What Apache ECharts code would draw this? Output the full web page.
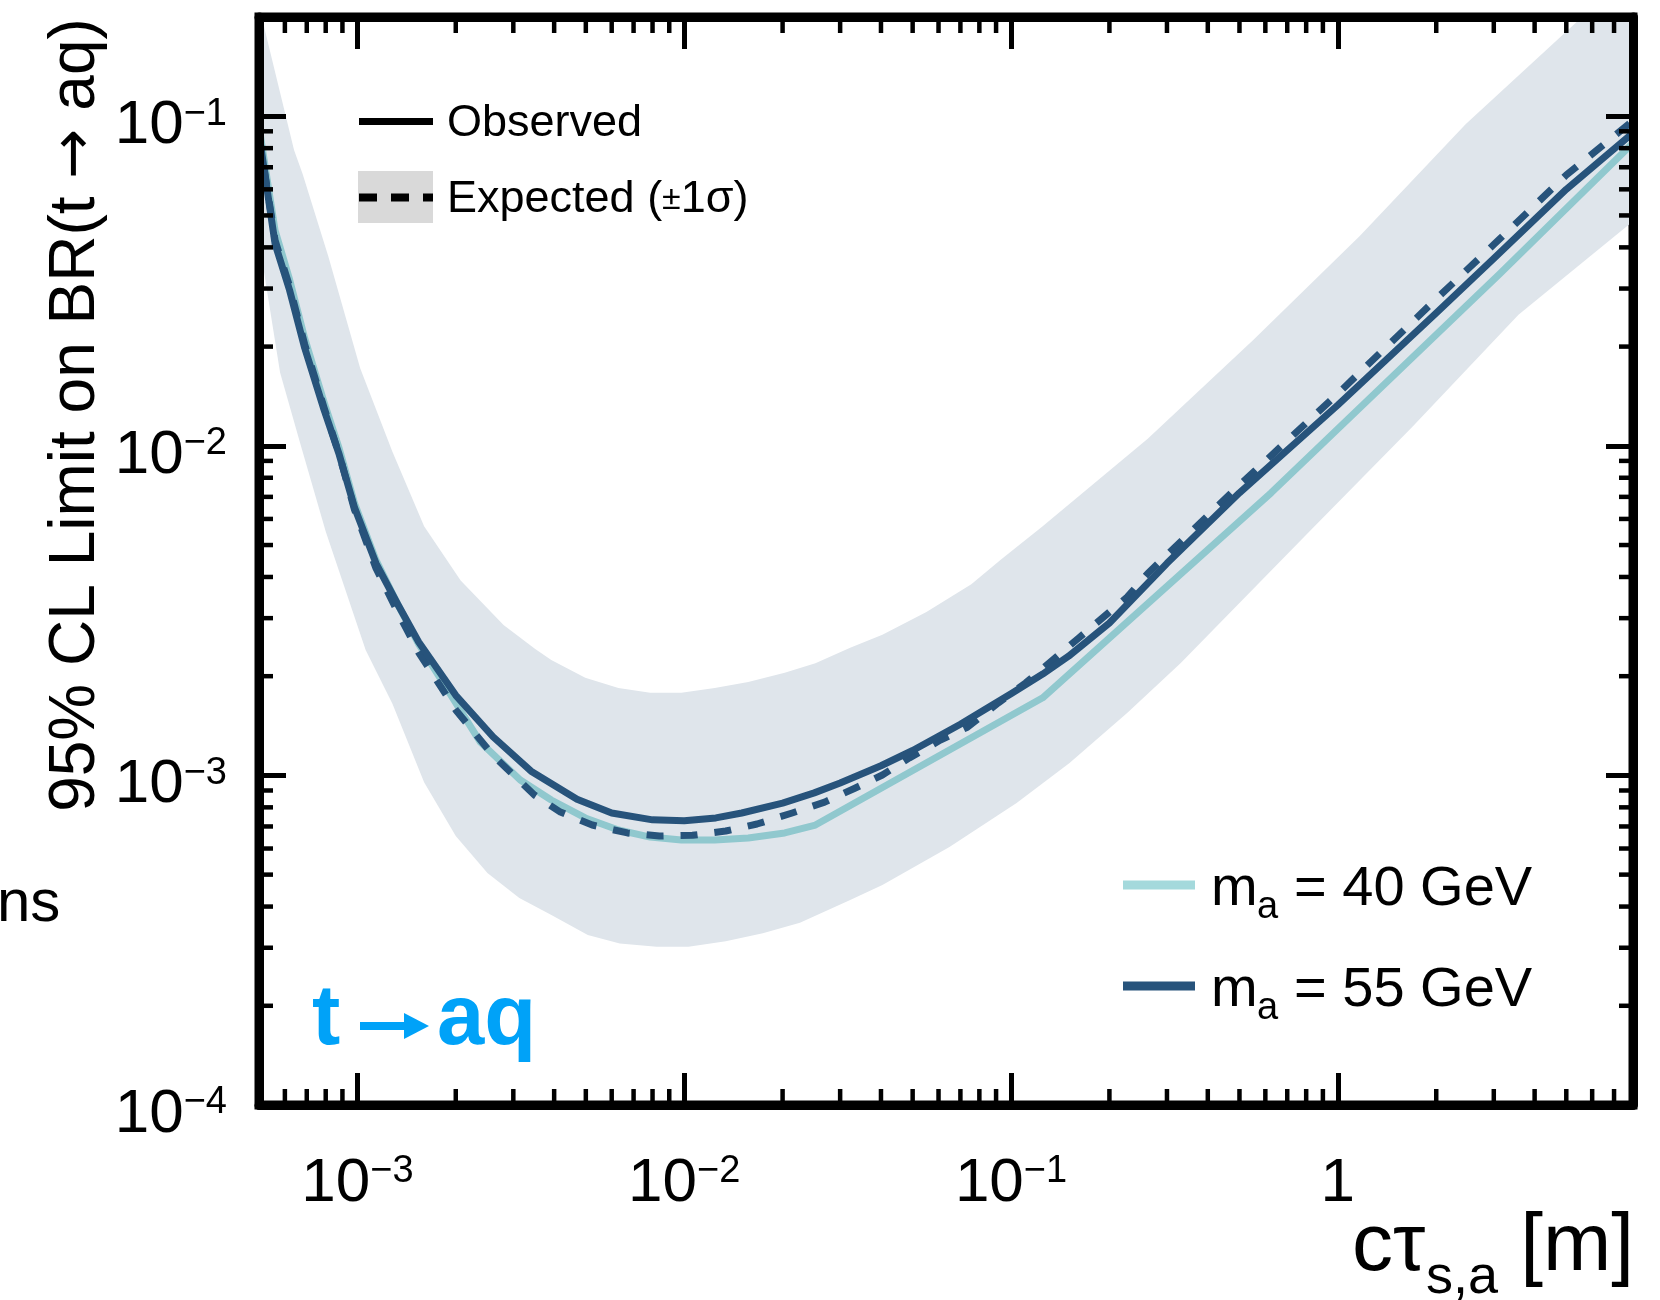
<!DOCTYPE html>
<html>
<head>
<meta charset="utf-8">
<script src="https://cdn.jsdelivr.net/npm/echarts@6/dist/echarts.min.js"></script>
<style>
  html, body { margin: 0; padding: 0; background: #ffffff; }
  #chart { width: 1660px; height: 1300px; }
</style>
</head>
<body>
<div id="chart"></div>
<script>
// ---- axis ranges -------------------------------------------------------
const X_MIN = 5e-4, X_MAX = 8;
const Y_MIN = 1e-4, Y_MAX = 0.2;

// ---- tick labels (base, exponent) ---------------------------------------
const xTickValues = [1e-3, 1e-2, 1e-1, 1];
const xTickLabels = [['10', '\u22123'], ['10', '\u22122'], ['10', '\u22121'], ['1', '']];
const yTickValues = [1e-4, 1e-3, 1e-2, 1e-1];
const yTickLabels = [['10', '\u22124'], ['10', '\u22123'], ['10', '\u22122'], ['10', '\u22121']];

// minor tick positions
const xMinorTicks = [6e-4, 7e-4, 8e-4, 9e-4,
  2e-3, 3e-3, 4e-3, 5e-3, 6e-3, 7e-3, 8e-3, 9e-3,
  2e-2, 3e-2, 4e-2, 5e-2, 6e-2, 7e-2, 8e-2, 9e-2,
  0.2, 0.3, 0.4, 0.5, 0.6, 0.7, 0.8, 0.9,
  2, 3, 4, 5, 6, 7];
const yMinorTicks = [2e-4, 3e-4, 4e-4, 5e-4, 6e-4, 7e-4, 8e-4, 9e-4,
  2e-3, 3e-3, 4e-3, 5e-3, 6e-3, 7e-3, 8e-3, 9e-3,
  2e-2, 3e-2, 4e-2, 5e-2, 6e-2, 7e-2, 8e-2, 9e-2];

// ---- m_a = 55 GeV, observed limit ---------------------------------------
const obs55X = [5.0e-4, 5.6e-4, 6.2e-4, 6.9e-4, 7.9e-4, 8.8e-4, 9.8e-4, 1.14e-3, 1.33e-3, 1.54e-3,
  2.0e-3, 2.6e-3, 3.4e-3, 4.7e-3, 6.0e-3, 8.0e-3, 1.0e-2, 1.25e-2, 1.5e-2, 2.0e-2,
  2.5e-2, 3.0e-2, 4.0e-2, 5.0e-2, 7.0e-2, 0.1, 0.125, 0.15, 0.2, 0.3,
  0.5, 1, 2, 3, 5, 8];
const obs55Y = [0.088, 0.041, 0.0297, 0.0198, 0.0129, 0.0094, 0.0065, 0.0044, 0.0033, 0.00254,
  0.00175, 0.00131, 0.00103, 0.000847, 0.000769, 0.000733, 0.000728, 0.000743, 0.000769, 0.000824,
  0.000885, 0.000948, 0.00107, 0.00119, 0.00143, 0.00177, 0.00203, 0.0023, 0.0029, 0.0044,
  0.0072, 0.0133, 0.0253, 0.037, 0.060, 0.089];

// ---- m_a = 55 GeV, expected limit ---------------------------------------
const exp55X = [5.0e-4, 5.6e-4, 6.2e-4, 6.9e-4, 7.9e-4, 8.8e-4, 9.8e-4, 1.14e-3, 1.33e-3, 1.54e-3,
  2.0e-3, 2.6e-3, 3.48e-3, 4.18e-3, 5.23e-3, 6.7e-3, 8.4e-3, 1.06e-2, 1.34e-2, 1.67e-2,
  2.14e-2, 2.69e-2, 3.34e-2, 4.04e-2, 4.89e-2, 6.08e-2, 7.35e-2, 9.15e-2, 0.111, 0.161,
  0.227, 0.262, 0.5, 1, 2, 3, 5, 8];
const exp55Y = [0.088, 0.042, 0.0305, 0.0203, 0.0131, 0.0094, 0.0064, 0.00425, 0.00312, 0.00236,
  0.00158, 0.00115, 0.000872, 0.000774, 0.000707, 0.000669, 0.000655, 0.000658, 0.000678, 0.000712,
  0.000769, 0.00083, 0.000916, 0.001003, 0.00113, 0.00128, 0.0014, 0.00166, 0.00191, 0.00261,
  0.00348, 0.0041, 0.0076, 0.0144, 0.0279, 0.0408, 0.0663, 0.097];

// ---- m_a = 40 GeV, observed limit ---------------------------------------
const obs40X = [5.0e-4, 5.6e-4, 6.2e-4, 6.9e-4, 7.9e-4, 8.8e-4, 9.8e-4, 1.14e-3, 1.33e-3, 1.54e-3,
  2.0e-3, 2.38e-3, 3.15e-3, 3.92e-3, 4.98e-3, 6.29e-3, 7.87e-3, 9.8e-3, 1.24e-2, 1.57e-2,
  2.03e-2, 2.52e-2, 0.125, 0.625, 3.125, 8];
const obs40Y = [0.093, 0.045, 0.032, 0.0212, 0.0136, 0.0098, 0.0067, 0.0045, 0.0033, 0.0025,
  0.00166, 0.00126, 0.000968, 0.000842, 0.000743, 0.000683, 0.00065, 0.000637, 0.000637, 0.000646,
  0.000669, 0.000707, 0.00172, 0.0072, 0.0332, 0.083];

// ---- expected +-1 sigma band: upper edge ---------------------------------
const bandHiX = [5.0e-4, 5.16e-4, 6.4e-4, 6.8e-4, 8.15e-4, 1.02e-3, 1.28e-3, 1.6e-3, 2.07e-3, 2.8e-3,
  3.5e-3, 3.92e-3, 4.98e-3, 6.29e-3, 7.87e-3, 9.8e-3, 1.24e-2, 1.57e-2, 2.03e-2, 2.52e-2,
  3.22e-2, 4.04e-2, 5.51e-2, 7.56e-2, 9.28e-2, 0.125, 0.262, 0.553, 1.167, 2.46,
  5.59, 8];
const bandHiY = [0.22, 0.19, 0.079, 0.0668, 0.0375, 0.0172, 0.0096, 0.0057, 0.0039, 0.00286,
  0.00242, 0.00224, 0.00198, 0.00184, 0.00178, 0.00178, 0.00184, 0.00192, 0.00205, 0.00219,
  0.00244, 0.00267, 0.00313, 0.0038, 0.0045, 0.0057, 0.0105, 0.021, 0.0433, 0.0945,
  0.2, 0.29];

// ---- expected +-1 sigma band: lower edge ---------------------------------
const bandLoX = [5.0e-4, 5.8e-4, 6.7e-4, 8.0e-4, 1.06e-3, 1.28e-3, 1.6e-3, 2.0e-3, 2.5e-3, 3.13e-3,
  3.91e-3, 5.07e-3, 6.35e-3, 8.24e-3, 1.03e-2, 1.34e-2, 1.74e-2, 2.26e-2, 3.22e-2, 4.04e-2,
  6.48e-2, 0.104, 0.151, 0.227, 0.33, 0.803, 1.694, 3.57, 8];
const bandLoY = [0.042, 0.0167, 0.0101, 0.0055, 0.0024, 0.00165, 0.000954, 0.000655, 0.000506, 0.000425,
  0.000378, 0.000328, 0.000309, 0.000302, 0.000302, 0.000314, 0.000332, 0.000357, 0.000419, 0.000465,
  0.000606, 0.000825, 0.00109, 0.00155, 0.00219, 0.00539, 0.01145, 0.025, 0.048];

// ---- styling ------------------------------------------------------------
const FONT = '"Liberation Sans", Arial, Helvetica, sans-serif';
const ARROW_FONT = '"DejaVu Sans", "Liberation Sans", sans-serif';
const TEAL = '#90c8ce';
const NAVY = '#27537b';
const BAND = '#dfe5eb';
const BLUE = '#00a2f8';

const zip = (xs, ys) => xs.map((x, i) => [x, ys[i]]);

function tickLabel(values, labels) {
  return function (v) {
    for (let i = 0; i < values.length; i++) {
      if (Math.abs(Math.log10(v) - Math.log10(values[i])) < 1e-6) {
        const l = labels[i];
        return l[1] ? '{b|' + l[0] + '}{s|' + l[1] + '}' : '{b|' + l[0] + '}';
      }
    }
    return '';
  };
}

const labelRich = {
  b: { fontFamily: FONT, fontSize: 62, color: '#000', lineHeight: 62 },
  s: { fontFamily: FONT, fontSize: 38, color: '#000', lineHeight: 22, verticalAlign: 'top' }
};

function xAxisDef(pos, withLabels) {
  return {
    type: 'log', logBase: 10, min: X_MIN, max: X_MAX, position: pos, z: 10,
    axisLine: { show: true, onZero: false, lineStyle: { color: '#000', width: 9 } },
    axisTick: { show: true, inside: true, length: 32, lineStyle: { color: '#000', width: 5 } },
    minorTick: { show: false },
    splitLine: { show: false },
    axisLabel: {
      show: withLabels, margin: 48, formatter: tickLabel(xTickValues, xTickLabels),
      rich: labelRich, showMinLabel: false, showMaxLabel: false
    }
  };
}
function yAxisDef(pos, withLabels) {
  return {
    type: 'log', logBase: 10, min: Y_MIN, max: Y_MAX, position: pos, z: 10,
    axisLine: { show: true, onZero: false, lineStyle: { color: '#000', width: 9 } },
    axisTick: { show: true, inside: true, length: 27, lineStyle: { color: '#000', width: 5 } },
    minorTick: { show: false },
    splitLine: { show: false },
    axisLabel: {
      show: withLabels, margin: 32, formatter: tickLabel(yTickValues, yTickLabels),
      rich: labelRich, padding: [20, 0, 0, 0], showMaxLabel: false
    }
  };
}

// minor ticks on both opposite frame edges
function minorTickSeries(values, isX) {
  return {
    type: 'custom', coordinateSystem: 'cartesian2d', xAxisIndex: 0, yAxisIndex: 0,
    z: 11, silent: true, clip: false,
    encode: { x: 0, y: 1 },
    data: values.map(v => isX ? [v, Y_MIN] : [X_MIN, v]),
    renderItem: function (params, api) {
      const cs = params.coordSys;
      const st = { stroke: '#000', lineWidth: 4.5 };
      if (isX) {
        const px = api.coord([api.value(0), Y_MIN])[0];
        return { type: 'group', children: [
          { type: 'line', shape: { x1: px, y1: cs.y + cs.height, x2: px, y2: cs.y + cs.height - 16 }, style: st },
          { type: 'line', shape: { x1: px, y1: cs.y, x2: px, y2: cs.y + 16 }, style: st }
        ] };
      }
      const py = api.coord([X_MIN, api.value(1)])[1];
      return { type: 'group', children: [
        { type: 'line', shape: { x1: cs.x, y1: py, x2: cs.x + 14, y2: py }, style: st },
        { type: 'line', shape: { x1: cs.x + cs.width, y1: py, x2: cs.x + cs.width - 14, y2: py }, style: st }
      ] };
    }
  };
}

function txt(x, y, text, font, opts) {
  opts = opts || {};
  return {
    type: 'text', x: x, y: y, z: 21,
    style: {
      text: text, font: font, fill: opts.fill || '#000',
      align: opts.align || 'left', verticalAlign: 'middle'
    }
  };
}

const chart = echarts.init(document.getElementById('chart'), null, { renderer: 'canvas' });

chart.setOption({
  animation: false,
  backgroundColor: '#ffffff',
  grid: {
    left: 259, top: 17, width: 1374, height: 1088,
    show: true, borderColor: '#000', borderWidth: 9, backgroundColor: 'transparent',
    containLabel: false, outerBoundsMode: 'none'
  },
  xAxis: [xAxisDef('bottom', true), xAxisDef('top', false)],
  yAxis: [yAxisDef('left', true), yAxisDef('right', false)],
  series: [
    {
      // expected +-1 sigma band
      type: 'custom', coordinateSystem: 'cartesian2d', xAxisIndex: 0, yAxisIndex: 0,
      z: 1, silent: true, clip: true, encode: { x: 0, y: 1 },
      data: [[X_MIN, Y_MIN]],
      renderItem: function (params, api) {
        const cs = params.coordSys;
        const pts = [];
        for (let i = 0; i < bandHiX.length; i++) pts.push(api.coord([bandHiX[i], bandHiY[i]]));
        for (let i = bandLoX.length - 1; i >= 0; i--) pts.push(api.coord([bandLoX[i], bandLoY[i]]));
        return {
          type: 'polygon', shape: { points: pts }, style: { fill: BAND },
          clipPath: { type: 'rect', shape: { x: cs.x, y: cs.y, width: cs.width, height: cs.height } }
        };
      }
    },
    {
      name: 'm_a = 40 GeV observed', type: 'line', xAxisIndex: 0, yAxisIndex: 0,
      data: zip(obs40X, obs40Y), showSymbol: false, symbol: 'none', z: 2, silent: true,
      lineStyle: { color: TEAL, width: 7, cap: 'butt', join: 'round' }
    },
    {
      name: 'm_a = 55 GeV expected', type: 'line', xAxisIndex: 0, yAxisIndex: 0,
      data: zip(exp55X, exp55Y), showSymbol: false, symbol: 'none', z: 3, silent: true,
      lineStyle: { color: NAVY, width: 7, type: [17, 17], cap: 'butt', join: 'round' }
    },
    {
      name: 'm_a = 55 GeV observed', type: 'line', xAxisIndex: 0, yAxisIndex: 0,
      data: zip(obs55X, obs55Y), showSymbol: false, symbol: 'none', z: 4, silent: true,
      lineStyle: { color: NAVY, width: 7, cap: 'butt', join: 'round' }
    },
    minorTickSeries(xMinorTicks, true),
    minorTickSeries(yMinorTicks, false)
  ],
  graphic: [
    // y-axis title
    {
      type: 'text', x: 76, y: 415, rotation: Math.PI / 2, z: 20,
      style: {
        text: '{t|95% CL Limit on BR(t }{r|\u2192}{t| aq)}', fill: '#000', align: 'center', verticalAlign: 'middle',
        rich: {
          t: { font: '64px ' + FONT, fill: '#000' },
          r: { font: '60px ' + ARROW_FONT, fill: '#000' }
        }
      }
    },
    // x-axis title
    txt(1352, 1247, 'c\u03c4', '82px ' + FONT),
    txt(1426, 1278, 's,a', '54px ' + FONT),
    txt(1634, 1247, '[m]', '82px ' + FONT, { align: 'right' }),
    // clipped text at left margin
    txt(-3, 904, 'ns', '60px ' + FONT),
    // process label "t -> aq"
    txt(312, 1021, 't', 'bold 85px ' + FONT, { fill: BLUE }),
    { type: 'rect', z: 21, shape: { x: 360, y: 1022, width: 48, height: 8 }, style: { fill: BLUE } },
    { type: 'polygon', z: 21, shape: { points: [[404, 1013], [429, 1026], [404, 1039]] }, style: { fill: BLUE } },
    txt(437, 1021, 'aq', 'bold 85px ' + FONT, { fill: BLUE }),
    // style legend
    { type: 'rect', z: 20, shape: { x: 358, y: 171, width: 75, height: 52 }, style: { fill: '#d9d9d9' } },
    { type: 'line', z: 21, shape: { x1: 359, y1: 121.5, x2: 433, y2: 121.5 }, style: { stroke: '#000', lineWidth: 7 } },
    { type: 'line', z: 21, shape: { x1: 359, y1: 197.5, x2: 433, y2: 197.5 }, style: { stroke: '#000', lineWidth: 8, lineDash: [18, 14] } },
    txt(447, 124, 'Observed', '45px ' + FONT),
    {
      type: 'text', x: 447, y: 199.5, z: 21,
      style: {
        text: '{t|Expected (}{p|\u00b1}{t|1\u03c3)}', fill: '#000', align: 'left', verticalAlign: 'middle',
        rich: {
          t: { font: '45px ' + FONT, fill: '#000' },
          p: { font: '34px ' + FONT, fill: '#000' }
        }
      }
    },
    // mass legend
    { type: 'line', z: 21, shape: { x1: 1123, y1: 885, x2: 1195, y2: 885 }, style: { stroke: '#a4d9dc', lineWidth: 9 } },
    { type: 'line', z: 21, shape: { x1: 1123, y1: 986, x2: 1195, y2: 986 }, style: { stroke: NAVY, lineWidth: 9 } },
    txt(1211, 890, 'm', '56px ' + FONT),
    txt(1257, 908, 'a', '38px ' + FONT),
    txt(1294, 890, '= 40 GeV', '56px ' + FONT),
    txt(1211, 991, 'm', '56px ' + FONT),
    txt(1257, 1009, 'a', '38px ' + FONT),
    txt(1294, 991, '= 55 GeV', '56px ' + FONT)
  ]
});
</script>
</body>
</html>
